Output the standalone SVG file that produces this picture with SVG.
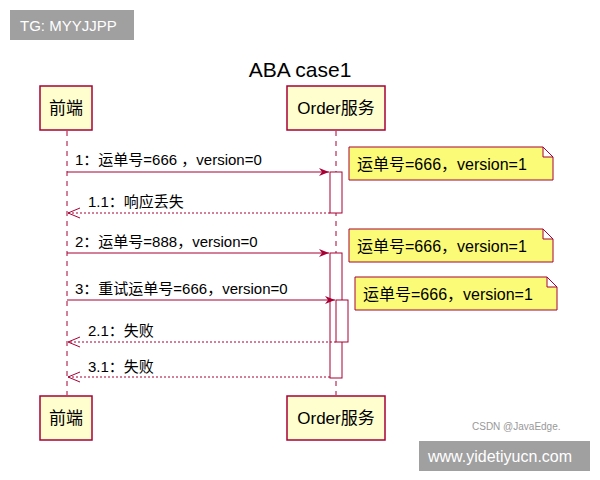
<svg xmlns="http://www.w3.org/2000/svg" width="600" height="480" viewBox="0 0 600 480">
<defs>
<style>
text{font-family:"Liberation Sans","Noto Sans CJK SC",sans-serif;fill:#000}
.p rect{fill:#fefece;stroke:#a80036;stroke-width:1.5}
.p text{font-size:17px;text-anchor:middle}
.life{stroke:#a80036;stroke-dasharray:5,5;stroke-width:1}
.act{fill:#fff;stroke:#a80036;stroke-width:1}
.msg{stroke:#a80036;stroke-width:1;fill:none}
.ret{stroke:#a80036;stroke-width:1;fill:none;stroke-dasharray:2,2}
.lbl{font-size:15px}
.note path{fill:#fbfb77;stroke:#a80036;stroke-width:1}
.note text{font-size:16px}
</style>
<marker id="a" viewBox="0 0 10 10" refX="10" refY="5" markerWidth="10" markerHeight="10" orient="auto"><path d="M0,1 L10,5 L0,9 L3,5 Z" fill="#a80036"/></marker>
</defs>
<rect width="600" height="480" fill="#fff"/>
<rect x="10" y="10" width="124" height="30" fill="#a0a0a0"/>
<text x="20" y="31" font-size="15" style="fill:#fff">TG: MYYJJPP</text>
<text x="300" y="77" font-size="21" text-anchor="middle">ABA case1</text>
<line class="life" x1="67" y1="131" x2="67" y2="395"/>
<line class="life" x1="336" y1="131" x2="336" y2="395"/>
<g id="p1" class="p"><rect x="40" y="86" width="52" height="44"/><text x="66" y="114">前端</text></g>
<g id="p2" class="p"><rect x="287" y="86" width="98" height="44"/><text x="336" y="114">Order服务</text></g>
<g id="p1b" class="p"><rect x="40" y="396" width="52" height="44"/><text x="66" y="424">前端</text></g>
<g id="p2b" class="p"><rect x="287" y="396" width="98" height="44"/><text x="336" y="424">Order服务</text></g>
<rect class="act" x="330" y="172" width="12" height="41"/>
<rect class="act" x="330" y="253" width="12" height="125"/>
<rect class="act" x="336" y="300" width="12" height="42"/>
<g id="connectors">
<line class="msg" x1="67" y1="172" x2="329" y2="172" marker-end="url(#a)"/>
<text class="lbl" x="75" y="165">1：运单号=666 ，version=0</text>
<line class="ret" x1="330" y1="213" x2="68" y2="213"/>
<path d="M80,208 L68,213 L80,218" class="msg"/>
<text class="lbl" x="88" y="207">1.1：响应丢失</text>
<line class="msg" x1="67" y1="253" x2="329" y2="253" marker-end="url(#a)"/>
<text class="lbl" x="75" y="247">2：运单号=888，version=0</text>
<line class="msg" x1="67" y1="300" x2="335" y2="300" marker-end="url(#a)"/>
<text class="lbl" x="75" y="294">3：重试运单号=666，version=0</text>
<line class="ret" x1="336" y1="342" x2="68" y2="342"/>
<path d="M80,337 L68,342 L80,347" class="msg"/>
<text class="lbl" x="88" y="336">2.1：失败</text>
<line class="ret" x1="330" y1="377" x2="68" y2="377"/>
<path d="M80,372 L68,377 L80,382" class="msg"/>
<text class="lbl" x="88" y="372">3.1：失败</text>
</g>
<g id="n1" class="note"><path d="M349,147 H543 L553,157 V180 H349 Z M543,147 V157 H553"/><text x="357" y="170">运单号=666，version=1</text></g>
<g id="n2" class="note"><path d="M349,229 H543 L553,239 V262 H349 Z M543,229 V239 H553"/><text x="357" y="252">运单号=666，version=1</text></g>
<g id="n3" class="note"><path d="M355,277 H547 L557,287 V310 H355 Z M547,277 V287 H557"/><text x="363" y="300">运单号=666，version=1</text></g>
<text x="472" y="430" font-size="10" style="fill:#999">CSDN @JavaEdge.</text>
<rect x="419" y="441" width="171" height="30" fill="#a0a0a0"/>
<text x="428" y="462" font-size="16" style="fill:#fff">www.yidetiyucn.com</text>
</svg>
